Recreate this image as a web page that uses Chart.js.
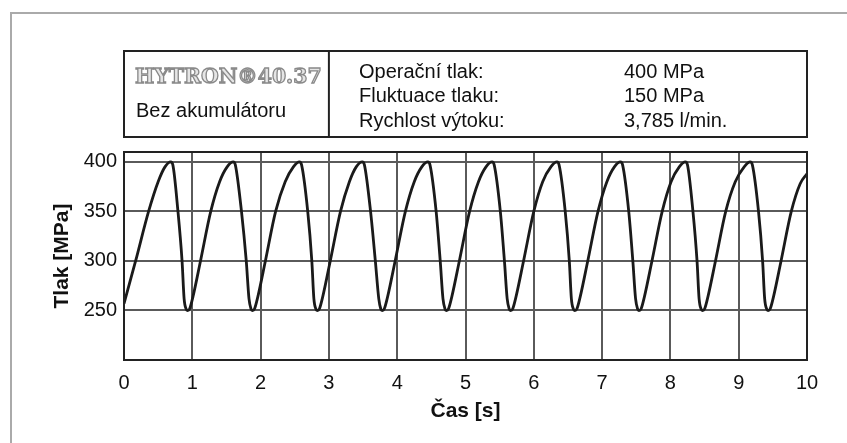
<!DOCTYPE html>
<html>
<head>
<meta charset="utf-8">
<script src="https://cdn.jsdelivr.net/npm/chart.js@4.4.1/dist/chart.umd.min.js"></script>
<style>
  html, body { margin: 0; padding: 0; background: #fff; }
  #wrap { width: 847px; height: 443px; }
</style>
</head>
<body>
<div id="wrap"><canvas id="tlakChart"></canvas></div>
<script>
// Data (one row per pressure cycle)
const times = [
    0, 0.17, 0.36, 0.50, 0.60, 0.685, 0.715, 0.79, 0.85, 0.88, 0.91,
    0.93, 0.96, 1.01, 1.12, 1.27, 1.40, 1.51, 1.60, 1.63, 1.72, 1.79, 1.83, 1.86,
    1.88, 1.91, 1.96, 2.07, 2.22, 2.36, 2.48, 2.57, 2.60, 2.69, 2.75, 2.78, 2.81,
    2.83, 2.86, 2.91, 3.02, 3.17, 3.30, 3.40, 3.49, 3.52, 3.61, 3.68, 3.73, 3.76,
    3.78, 3.81, 3.86, 3.97, 4.12, 4.25, 4.36, 4.45, 4.48, 4.57, 4.63, 4.67, 4.70,
    4.72, 4.75, 4.80, 4.91, 5.06, 5.19, 5.30, 5.39, 5.42, 5.51, 5.57, 5.61, 5.64,
    5.66, 5.69, 5.74, 5.85, 6.00, 6.13, 6.25, 6.34, 6.37, 6.46, 6.52, 6.55, 6.58,
    6.60, 6.63, 6.68, 6.79, 6.94, 7.07, 7.18, 7.27, 7.30, 7.39, 7.45, 7.49, 7.52,
    7.54, 7.57, 7.62, 7.73, 7.88, 8.01, 8.13, 8.22, 8.25, 8.33, 8.39, 8.42, 8.45,
    8.47, 8.50, 8.55, 8.66, 8.81, 8.95, 9.08, 9.17, 9.20, 9.29, 9.35, 9.38, 9.41,
    9.43, 9.46, 9.51, 9.62, 9.77, 9.90, 10
];
const pressures = [
    257, 300, 350, 380, 395, 400, 397, 350, 300, 262, 251.5,
    250, 251.5, 264, 300, 350, 380, 395, 400, 397, 350, 300, 262, 251.5,
    250, 251.5, 264, 300, 350, 380, 395, 400, 397, 350, 300, 262, 251.5,
    250, 251.5, 264, 300, 350, 380, 395, 400, 397, 350, 300, 262, 251.5,
    250, 251.5, 264, 300, 350, 380, 395, 400, 397, 350, 300, 262, 251.5,
    250, 251.5, 264, 300, 350, 380, 395, 400, 397, 350, 300, 262, 251.5,
    250, 251.5, 264, 300, 350, 380, 395, 400, 397, 350, 300, 262, 251.5,
    250, 251.5, 264, 300, 350, 380, 395, 400, 397, 350, 300, 262, 251.5,
    250, 251.5, 264, 300, 350, 380, 395, 400, 397, 350, 300, 262, 251.5,
    250, 251.5, 264, 300, 350, 380, 395, 400, 397, 350, 300, 262, 251.5,
    250, 251.5, 264, 300, 350, 378, 388
];
const yTickLabels = [250, 300, 350, 400];
const xTickLabels = [0, 1, 2, 3, 4, 5, 6, 7, 8, 9, 10];
const infoLabels = ['Operační tlak:', 'Fluktuace tlaku:', 'Rychlost výtoku:'];
const infoValues = ['400 MPa', '150 MPa', '3,785 l/min.'];
const productName = 'HYTRON®40.37';
const variantName = 'Bez akumulátoru';

const points = times.map((t, i) => ({ x: t, y: pressures[i] }));
const FONT = '"Liberation Sans", Arial, sans-serif';

// outer gray frame + plot frame + header box with texts
const decorPlugin = {
    id: 'decor',
    beforeDraw(chart) {
        const ctx = chart.ctx;
        ctx.save();
        ctx.strokeStyle = '#aaa';
        ctx.lineWidth = 2;
        ctx.beginPath();
        ctx.moveTo(11, 443);
        ctx.lineTo(11, 13);
        ctx.lineTo(847, 13);
        ctx.stroke();
        ctx.restore();
    },
    afterDraw(chart) {
        const ctx = chart.ctx;
        const a = chart.chartArea;
        const xs = chart.scales.x;
        ctx.save();
        ctx.strokeStyle = '#222';
        ctx.lineWidth = 2;
        ctx.strokeRect(a.left, a.top, a.right - a.left, a.bottom - a.top);

        // header box
        const boxTop = 51, boxBottom = 137;
        const split = xs.getPixelForValue(3);
        ctx.strokeRect(a.left, boxTop, a.right - a.left, boxBottom - boxTop);
        ctx.beginPath();
        ctx.moveTo(split, boxTop);
        ctx.lineTo(split, boxBottom);
        ctx.stroke();

        // product name, outlined serif look
        let size = 22;
        ctx.font = 'bold ' + size + 'px "DejaVu Serif", serif';
        const w = ctx.measureText(productName).width;
        size = size * 187 / w;
        ctx.font = 'bold ' + size.toFixed(1) + 'px "DejaVu Serif", serif';
        ctx.textBaseline = 'middle';
        ctx.textAlign = 'left';
        ctx.fillStyle = '#e6e6e6';
        ctx.strokeStyle = '#8a8a8a';
        ctx.lineWidth = 1.3;
        ctx.fillText(productName, 135, 78);
        ctx.strokeText(productName, 135, 78);

        ctx.fillStyle = '#111';
        ctx.textBaseline = 'alphabetic';
        ctx.font = '20px ' + FONT;
        ctx.fillText(variantName, 136, 117);

        const baselines = [78, 102, 127];
        infoLabels.forEach((txt, i) => {
            ctx.fillText(txt, 359, baselines[i]);
            ctx.fillText(infoValues[i], 624, baselines[i]);
        });
        ctx.restore();
    }
};

const ctx = document.getElementById('tlakChart');
new Chart(ctx, {
    type: 'line',
    data: {
        datasets: [{
            data: points,
            borderColor: '#1a1a1a',
            borderWidth: 2.8,
            pointRadius: 0,
            fill: false,
            cubicInterpolationMode: 'monotone'
        }]
    },
    options: {
        responsive: true,
        maintainAspectRatio: false,
        animation: false,
        layout: {
            padding: { top: 152, right: 40, left: 0, bottom: 0 }
        },
        plugins: {
            legend: { display: false },
            tooltip: { enabled: false }
        },
        scales: {
            x: {
                type: 'linear',
                min: 0,
                max: 10,
                afterFit(scale) { scale.height = 83; },
                afterBuildTicks(scale) { scale.ticks = xTickLabels.map(v => ({ value: v })); },
                ticks: {
                    padding: 11,
                    color: '#111',
                    font: { family: FONT, size: 20 }
                },
                grid: {
                    drawTicks: false,
                    lineWidth: 2,
                    color: c => (c.tick && (c.tick.value === 0 || c.tick.value === 10)) ? 'rgba(0,0,0,0)' : '#5a5a5a'
                },
                border: { display: false },
                title: {
                    display: true,
                    text: 'Čas [s]',
                    color: '#111',
                    font: { family: FONT, size: 21, weight: 'bold' },
                    padding: { top: 0, bottom: 19 }
                }
            },
            y: {
                min: 200,
                max: 410,
                afterFit(scale) { scale.width = 124; },
                afterBuildTicks(scale) { scale.ticks = yTickLabels.map(v => ({ value: v })); },
                ticks: {
                    padding: 7,
                    color: '#111',
                    font: { family: FONT, size: 20 }
                },
                grid: {
                    drawTicks: false,
                    lineWidth: 2,
                    color: '#5a5a5a'
                },
                border: { display: false },
                title: {
                    display: true,
                    text: 'Tlak [MPa]',
                    color: '#111',
                    font: { family: FONT, size: 21, weight: 'bold' },
                    padding: { top: 50, bottom: 0 }
                }
            }
        }
    },
    plugins: [decorPlugin]
});
</script>
</body>
</html>
